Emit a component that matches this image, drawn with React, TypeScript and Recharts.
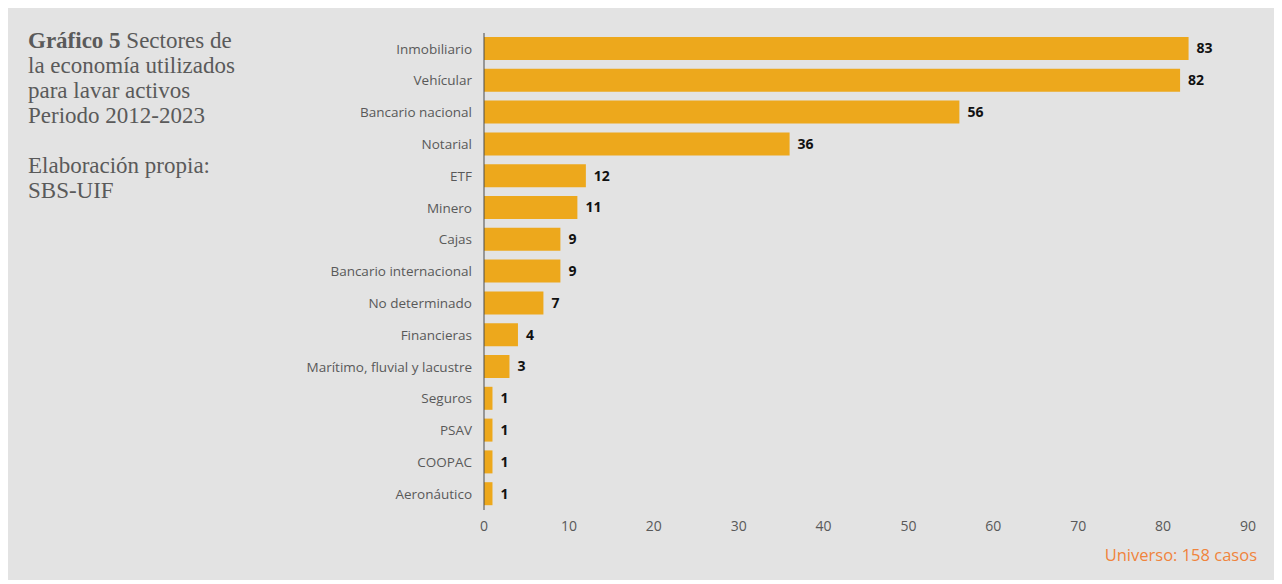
import { BarChart, Bar, XAxis, YAxis, LabelList } from 'recharts';

const sectors = [
  'Inmobiliario',
  'Vehícular',
  'Bancario nacional',
  'Notarial',
  'ETF',
  'Minero',
  'Cajas',
  'Bancario internacional',
  'No determinado',
  'Financieras',
  'Marítimo, fluvial y lacustre',
  'Seguros',
  'PSAV',
  'COOPAC',
  'Aeronáutico',
];
const cases = [83, 82, 56, 36, 12, 11, 9, 9, 7, 4, 3, 1, 1, 1, 1];
const xTicks = [0, 10, 20, 30, 40, 50, 60, 70, 80, 90];

const titleLines = ['Sectores de', 'la economía utilizados', 'para lavar activos', 'Periodo 2012-2023'];
const sourceLines = ['Elaboración propia:', 'SBS-UIF'];

const rows = sectors.map((name, i) => ({ name, value: cases[i] }));

const sans = '"Open Sans", "Noto Sans", sans-serif';

export default function App() {
  return (
    <div style={{ position: 'relative', width: 1274, height: 574, marginTop: -2, background: '#e3e3e3' }}>
      {/* Title block */}
      <div
        style={{
          position: 'absolute',
          left: 20,
          top: 22,
          width: 250,
          fontFamily: '"Liberation Serif", "DejaVu Serif", serif',
          fontSize: 23,
          lineHeight: '25px',
          color: '#5a5a5a',
          whiteSpace: 'nowrap',
        }}
      >
        <div>
          <b>Gráfico 5</b> {titleLines[0]}
        </div>
        {titleLines.slice(1).map((t) => (
          <div key={t}>{t}</div>
        ))}
        <div style={{ height: 25 }} />
        {sourceLines.map((t) => (
          <div key={t}>{t}</div>
        ))}
      </div>

      <BarChart
        width={1274}
        height={574}
        data={rows}
        layout="vertical"
        margin={{ top: 27, right: 34, bottom: 40, left: 0 }}
        barSize={23}
      >
        <XAxis
          type="number"
          domain={[0, 90]}
          ticks={xTicks}
          height={30}
          axisLine={false}
          tickLine={false}
          tickSize={0}
          tickMargin={11}
          tick={{ fill: '#595959', fontSize: 14, fontFamily: sans }}
        />
        <YAxis
          type="category"
          dataKey="name"
          width={476}
          axisLine={{ stroke: '#4a4a4a', strokeWidth: 1 }}
          tickLine={false}
          tickSize={0}
          tickMargin={12}
          interval={0}
          tick={{ fill: '#595959', fontSize: 13.5, fontFamily: sans }}
        />
        <Bar dataKey="value" fill="#eda81c" isAnimationActive={false}>
          <LabelList
            dataKey="value"
            position="right"
            offset={8}
            style={{ fill: '#111', fontSize: 14, fontWeight: 700, fontFamily: sans }}
          />
        </Bar>
      </BarChart>

      <div
        style={{
          position: 'absolute',
          right: 25,
          top: 537,
          fontFamily: sans,
          fontSize: 16.5,
          color: '#f0843c',
        }}
      >
        Universo: 158 casos
      </div>
    </div>
  );
}
